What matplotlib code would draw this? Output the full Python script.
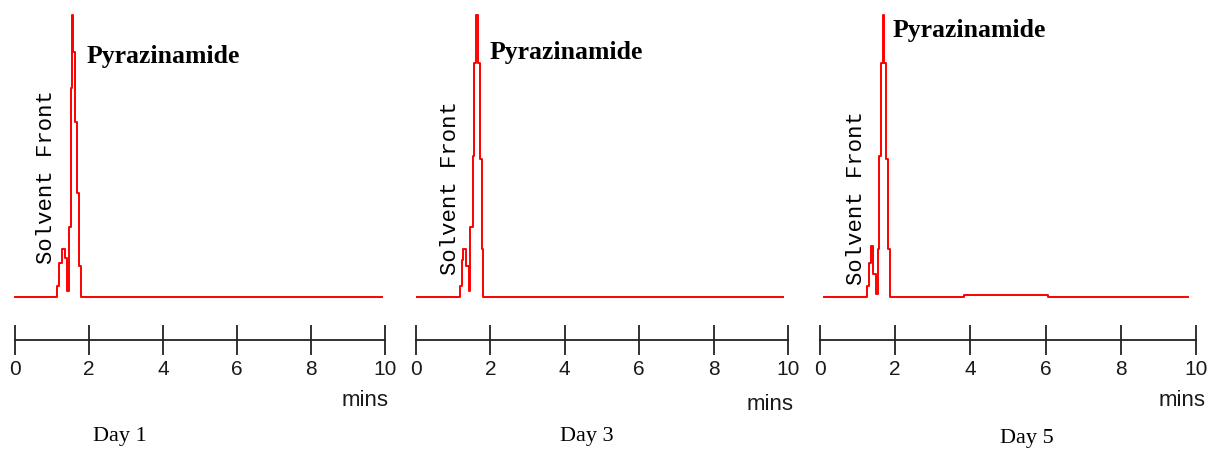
import matplotlib
matplotlib.use("Agg")
import matplotlib.pyplot as plt

W, H = 1208, 450

# retention time (min) / detector response (% of main peak), step trace
day1_t = [0.0, 1.13, 1.20, 1.26, 1.34, 1.40, 1.46, 1.50, 1.53, 1.56, 1.62, 1.68, 1.73, 1.78, 9.92]
day1_i = [0, 4, 12, 17, 14, 2, 25, 74, 100, 87, 62, 37, 11, 0, 0]

day3_t = [0.03, 1.18, 1.23, 1.27, 1.34, 1.43, 1.45, 1.52, 1.57, 1.61, 1.66, 1.72, 1.77, 1.81, 9.87]
day3_i = [0, 4, 13, 17, 11, 2, 25, 50, 83, 100, 83, 49, 17, 0, 0]

day5_t = [0.1, 1.24, 1.29, 1.35, 1.42, 1.48, 1.53, 1.58, 1.61, 1.67, 1.70, 1.75, 1.82, 1.86, 3.83, 6.07, 9.8]
day5_i = [0, 4, 12, 18, 8, 1, 17, 50, 83, 100, 83, 49, 17, 0, 0.7, 0, 0]

days = ["Day 1", "Day 3", "Day 5"]
times = [day1_t, day3_t, day5_t]
signals = [day1_i, day3_i, day5_i]
ticks = [0, 2, 4, 6, 8, 10]

# panel layout in pixels: x of 0 and 10 min, label positions
panel_x = [(15, 385), (416, 788), (820, 1196)]
peak_lbl = [(87, 57), (490, 52), (893, 31)]
front_lbl = [(47, 177), (450, 188), (857, 198)]
day_lbl = [(120, 436), (587, 437), (1027, 438)]
mins_lbl = [(389, 400), (794, 405), (1206, 400)]

fig = plt.figure(figsize=(W / 100, H / 100), dpi=100)


def fx(px):
    return px / W


def fy(py):
    return 1 - py / H


base_y, top_y, axis_y = 297, 15, 340

for k in range(3):
    x0, x1 = panel_x[k]

    # chromatogram trace
    ax = fig.add_axes([fx(x0), fy(base_y), (x1 - x0) / W, (base_y - top_y) / H])
    ax.plot(times[k], signals[k], drawstyle="steps-post", color="#ff0000", lw=1.4, clip_on=False)
    ax.set_xlim(0, 10)
    ax.set_ylim(0, 100)
    ax.axis("off")

    # separate time axis underneath
    tx = fig.add_axes([fx(x0), fy(axis_y), (x1 - x0) / W, 0.0001])
    tx.set_xlim(0, 10)
    tx.set_xticks(ticks)
    tx.set_yticks([])
    for s in ["top", "left", "right"]:
        tx.spines[s].set_visible(False)
    tx.spines["bottom"].set_color("#222222")
    tx.spines["bottom"].set_linewidth(1.3)
    tx.tick_params(axis="x", direction="inout", length=21, width=1.3, color="#222222",
                   pad=4, labelsize=15, labelcolor="#1a1a1a")
    for lbl in tx.get_xticklabels():
        lbl.set_fontfamily("Liberation Sans")
    tx.patch.set_visible(False)

    fig.text(fx(peak_lbl[k][0]), fy(peak_lbl[k][1]), "Pyrazinamide", ha="left", va="center",
             fontfamily="Liberation Serif", fontweight="bold", fontsize=18.5)
    fig.text(fx(front_lbl[k][0]), fy(front_lbl[k][1]), "Solvent Front", ha="center", va="center",
             rotation=90, fontfamily="Liberation Mono", fontsize=16)
    fig.text(fx(day_lbl[k][0]), fy(day_lbl[k][1]), days[k], ha="center", va="center",
             fontfamily="Liberation Serif", fontsize=16)
    fig.text(fx(mins_lbl[k][0]), fy(mins_lbl[k][1]), "mins", ha="right", va="center",
             fontfamily="Liberation Sans", fontsize=16, color="#1a1a1a")

fig.savefig("out.png", dpi=100)
